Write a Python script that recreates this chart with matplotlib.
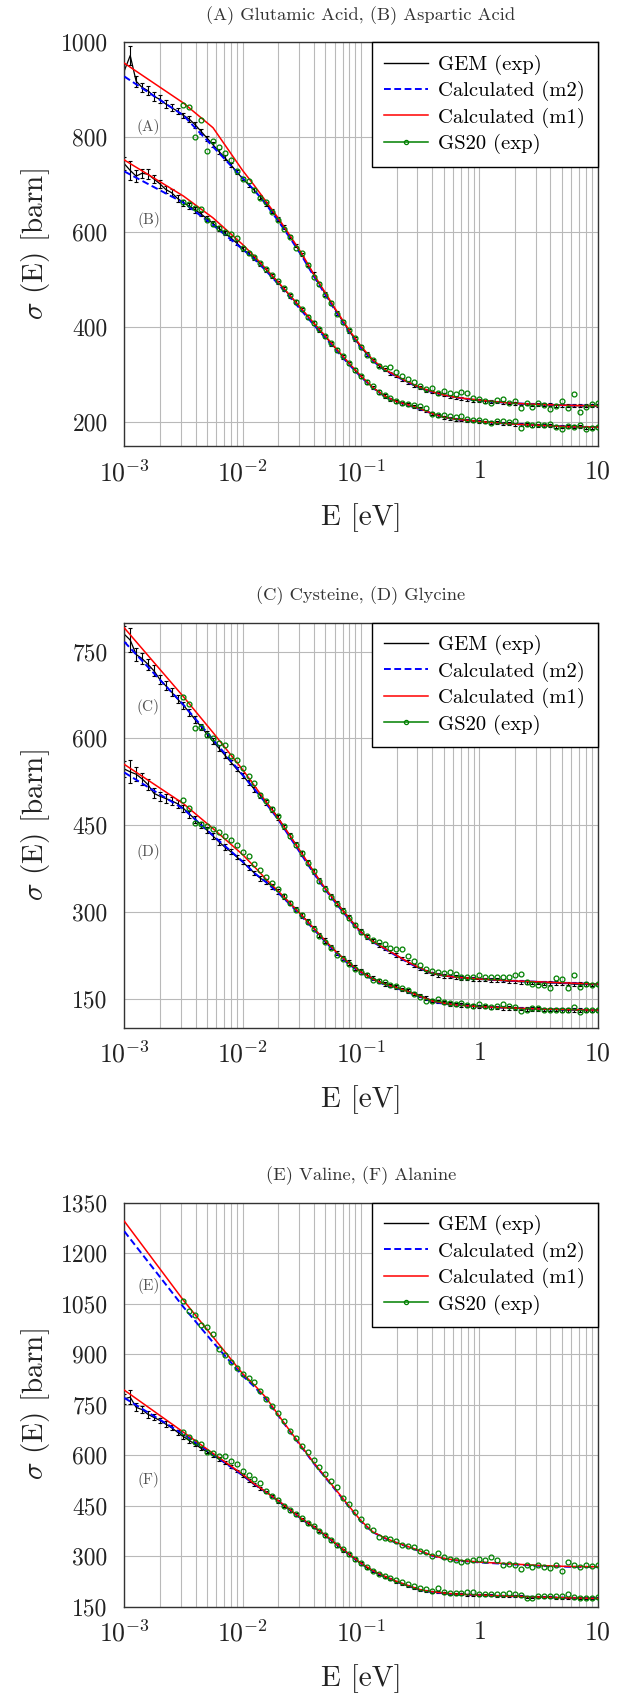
import numpy as np
import matplotlib
matplotlib.use("Agg")
import matplotlib.pyplot as plt
from matplotlib.lines import Line2D
from matplotlib.ticker import LogLocator, NullFormatter

plt.rcParams.update({
    "font.family": "serif",
    "font.serif": ["cmr10"],
    "mathtext.fontset": "cm",
    "axes.formatter.use_mathtext": True,
    "axes.unicode_minus": False,
})

# ---------------- data (log10 of energy in eV, cross-section in barn) ----------------
GEM_LOGE = [-3.00, -2.95, -2.90, -2.85, -2.80, -2.75, -2.70, -2.65, -2.60, -2.55,
            -2.50, -2.45, -2.40, -2.35, -2.30, -2.25, -2.20, -2.15, -2.10, -2.05,
            -2.00, -1.95, -1.90, -1.85, -1.80, -1.75, -1.70, -1.65, -1.60, -1.55,
            -1.50, -1.45, -1.40, -1.35, -1.30, -1.25, -1.20, -1.15, -1.10, -1.05,
            -1.00, -0.95, -0.90, -0.85, -0.80, -0.75, -0.70, -0.65, -0.60, -0.55,
            -0.50, -0.45, -0.40, -0.35, -0.30, -0.25, -0.20, -0.15, -0.10, -0.05,
            0.00, 0.05, 0.10, 0.15, 0.20, 0.25, 0.30, 0.35, 0.40, 0.45,
            0.50, 0.55, 0.60, 0.65, 0.70, 0.75, 0.80, 0.85, 0.90, 0.95,
            1.00]
GEM_ERR = [14, 20, 12, 10, 10, 9, 8, 8, 7, 7,
           6, 6, 6, 5, 5, 5, 5, 5, 4, 4,
           4, 4, 4, 4, 4, 4, 4, 4, 4, 4,
           4, 4, 4, 4, 4, 4, 4, 4, 4, 4,
           4, 3.5, 3.5, 3.5, 3.5, 3, 3, 3, 3, 3,
           3, 3, 3, 3, 3, 3, 3, 3, 3, 3,
           3, 3, 3, 3, 3, 3, 3, 3, 3, 3,
           3, 3, 3, 3, 3, 3, 3, 3, 3, 3,
           3]
GEM_A = [940, 972, 918, 905, 898, 886, 880, 870, 862, 855,
         846, 838, 826, 812, 798, 784, 770, 757, 742, 727,
         713, 700, 688, 674, 660, 645, 628, 610, 591, 572,
         553, 532, 511, 490, 470, 450, 430, 411, 392, 374,
         358, 343, 330, 319, 310, 303, 297, 290, 283, 277,
         272, 267, 263, 260, 257, 254, 252, 250, 248, 246,
         245, 244, 243, 242, 241, 240, 239, 238, 238, 237,
         237, 236, 236, 235, 235, 235, 234, 234, 234, 234,
         234]
GEM_B = [744, 730, 718, 724, 722, 712, 702, 690, 683, 671,
         662, 655, 647, 638, 628, 618, 608, 598, 588, 577,
         565, 555, 545, 533, 521, 508, 494, 480, 466, 452,
         437, 422, 408, 394, 380, 365, 351, 337, 323, 309,
         296, 284, 273, 263, 255, 248, 243, 239, 236, 232,
         228, 223, 218, 214, 210, 208, 206, 204, 203, 202,
         201, 200, 199, 198, 197, 196, 195, 195, 194, 193,
         193, 192, 192, 191, 191, 190, 190, 190, 189, 189,
         189]
GEM_C = [780, 770, 745, 738, 728, 717, 702, 691, 680, 668,
         657, 645, 632, 620, 607, 595, 583, 571, 559, 547,
         536, 524, 512, 501, 489, 477, 463, 447, 432, 416,
         401, 385, 370, 354, 340, 327, 315, 302, 290, 277,
         266, 257, 249, 243, 237, 231, 225, 219, 213, 207,
         202, 197, 193, 191, 189, 188, 187, 186, 185, 184,
         183, 183, 182, 182, 181, 180, 180, 179, 179, 178,
         178, 177, 177, 177, 176, 176, 175, 175, 175, 174,
         174]
GEM_D = [547, 542, 538, 530, 520, 505, 500, 496, 492, 487,
         479, 469, 460, 450, 441, 431, 421, 412, 404, 395,
         386, 377, 367, 358, 352, 344, 335, 326, 315, 305,
         294, 283, 272, 260, 250, 239, 229, 220, 212, 204,
         197, 191, 185, 180, 176, 173, 170, 166, 163, 159,
         155, 151, 147, 145, 143, 141, 140, 139, 138, 137,
         136, 136, 135, 135, 134, 134, 133, 133, 132, 132,
         132, 131, 131, 131, 130, 130, 130, 130, 129, 129,
         129]
GEM_F = [767, 772, 742, 735, 721, 712, 703, 692, 681, 668,
         655, 643, 632, 620, 610, 599, 588, 577, 566, 553,
         539, 525, 512, 501, 490, 478, 463, 449, 436, 423,
         409, 396, 386, 374, 360, 346, 332, 317, 304, 290,
         277, 265, 255, 246, 238, 231, 224, 217, 211, 205,
         199, 196, 194, 192, 190, 188, 187, 186, 185, 185,
         184, 183, 183, 182, 181, 181, 180, 180, 179, 178,
         178, 177, 177, 176, 176, 175, 175, 175, 174, 174,
         174]

CALC_LOGE = [-3.0, -2.5, -2.25, -2.0, -1.9, -1.8, -1.7, -1.6, -1.5, -1.4,
             -1.3, -1.2, -1.1, -1.0, -0.9, -0.8, -0.7, -0.6, -0.5, -0.4,
             -0.3, -0.2, 0.0, 0.25, 0.5, 0.75, 1.0]
M1_A = [956, 872, 820, 730, 698, 664, 630, 593, 555, 512, 472, 432, 394, 360,
        331, 311, 297, 284, 273, 264, 257, 252, 246, 240, 237, 235, 234]
M2_A = [928, 846, 780, 714, 688, 658, 624, 588, 550, 508, 468, 428, 390, 356,
        329, 309, 296, 283, 272, 263, 257, 252, 245, 240, 237, 235, 234]
M1_B = [752, 676, 630, 574, 549, 522, 495, 467, 438, 409, 381, 352, 324, 297,
        273, 255, 243, 236, 228, 218, 210, 206, 201, 196, 193, 190, 189]
M2_B = [728, 662, 615, 564, 543, 518, 491, 463, 434, 405, 377, 349, 321, 295,
        272, 254, 243, 235, 227, 218, 210, 206, 201, 196, 193, 190, 189]
M1_C = [791, 672, 610, 546, 518, 490, 462, 432, 401, 370, 340, 314, 289, 265,
        249, 237, 225, 213, 203, 194, 190, 187, 184, 181, 179, 177, 175]
M2_C = [767, 658, 598, 537, 512, 487, 460, 429, 398, 367, 338, 312, 287, 264,
        248, 236, 224, 212, 202, 194, 190, 187, 184, 181, 179, 177, 175]
M1_D = [555, 487, 444, 399, 378, 356, 336, 315, 294, 272, 250, 229, 211, 196,
        184, 175, 169, 162, 154, 146, 142, 139, 136, 134, 132, 131, 130]
M2_D = [541, 478, 432, 387, 367, 351, 333, 313, 292, 270, 248, 227, 209, 195,
        183, 174, 168, 161, 153, 145, 141, 139, 136, 134, 132, 131, 130]
M1_E = [1295, 1060, 951, 842, 808, 770, 720, 672, 625, 578, 535, 492, 448, 405,
        372, 354, 340, 328, 315, 302, 293, 288, 282, 277, 272, 269, 268]
M2_E = [1265, 1040, 935, 836, 803, 765, 718, 670, 623, 576, 533, 490, 446, 403,
        371, 353, 339, 327, 314, 301, 292, 287, 281, 276, 271, 268, 267]
M1_F = [793, 668, 605, 543, 514, 490, 465, 438, 411, 388, 362, 334, 306, 279,
        257, 240, 225, 212, 200, 194, 190, 187, 184, 181, 178, 176, 174]
M2_F = [770, 662, 602, 540, 513, 489, 464, 437, 410, 387, 361, 333, 305, 278,
        256, 239, 224, 211, 199, 193, 189, 186, 184, 181, 178, 176, 174]

GS20_LOGE = [-2.50, -2.45, -2.40, -2.35, -2.30, -2.25, -2.20, -2.15, -2.10, -2.05,
             -2.00, -1.95, -1.90, -1.85, -1.80, -1.75, -1.70, -1.65, -1.60, -1.55,
             -1.50, -1.45, -1.40, -1.35, -1.30, -1.25, -1.20, -1.15, -1.10, -1.05,
             -1.00, -0.95, -0.90, -0.85, -0.80, -0.75, -0.70, -0.65, -0.60, -0.55,
             -0.50, -0.45, -0.40, -0.35, -0.30, -0.25, -0.20, -0.15, -0.10, -0.05,
             0.00, 0.05, 0.10, 0.15, 0.20, 0.25, 0.30, 0.35, 0.40, 0.45,
             0.50, 0.55, 0.60, 0.65, 0.70, 0.75, 0.80, 0.85, 0.90, 0.95,
             1.00]
GS20_A = [868, 864, 800, 836, 771, 793, 780, 766, 752, 728,
          712, 708, 688, 672, 664, 642, 626, 606, 590, 566,
          555, 530, 506, 490, 468, 450, 428, 410, 394, 376,
          358, 342, 330, 318, 314, 316, 305, 296, 290, 284,
          276, 270, 272, 262, 266, 262, 258, 264, 262, 250,
          248, 244, 240, 246, 248, 240, 244, 230, 240, 232,
          240, 236, 228, 233, 244, 230, 258, 222, 232, 238,
          240]
GS20_B = [664, 660, 650, 648, 626, 618, 609, 600, 596, 588,
          566, 556, 547, 536, 523, 510, 496, 482, 468, 452,
          438, 422, 409, 396, 382, 366, 352, 338, 324, 310,
          297, 285, 275, 264, 256, 250, 244, 240, 238, 236,
          233, 230, 216, 215, 214, 213, 210, 212, 206, 205,
          204, 203, 198, 202, 201, 200, 201, 187, 196, 194,
          195, 194, 196, 190, 186, 192, 190, 193, 186, 187,
          190]
GS20_C = [672, 660, 618, 620, 606, 600, 592, 588, 570, 562,
          548, 535, 522, 502, 492, 478, 466, 448, 432, 416,
          402, 385, 370, 353, 340, 326, 314, 302, 290, 278,
          266, 258, 252, 248, 244, 238, 236, 236, 224, 215,
          208, 202, 198, 196, 194, 196, 192, 188, 187, 187,
          190, 188, 188, 188, 188, 188, 190, 193, 178, 176,
          174, 174, 168, 186, 184, 169, 190, 170, 175, 174,
          176]
GS20_D = [493, 480, 454, 452, 448, 444, 438, 432, 424, 416,
          404, 396, 382, 372, 360, 350, 340, 328, 316, 304,
          294, 282, 270, 258, 248, 238, 226, 218, 210, 202,
          196, 190, 183, 180, 178, 174, 172, 168, 164, 158,
          152, 146, 146, 150, 144, 142, 140, 142, 139, 138,
          140, 137, 136, 138, 140, 137, 136, 128, 130, 133,
          134, 131, 130, 131, 130, 130, 135, 126, 130, 130,
          130]
GS20_E = [1058, 1028, 1016, 988, 982, 960, 915, 896, 878, 860,
          842, 828, 816, 790, 768, 746, 726, 702, 672, 650,
          628, 608, 586, 565, 543, 524, 505, 472, 455, 430,
          410, 390, 376, 358, 354, 352, 345, 332, 330, 327,
          314, 312, 300, 309, 298, 292, 288, 283, 286, 287,
          292, 288, 297, 287, 272, 276, 272, 262, 272, 268,
          272, 268, 264, 272, 255, 282, 272, 268, 272, 270,
          274]
GS20_F = [668, 653, 640, 633, 610, 607, 598, 596, 583, 572,
          552, 540, 528, 516, 492, 478, 466, 450, 438, 424,
          412, 398, 388, 374, 362, 348, 334, 320, 306, 292,
          280, 268, 256, 246, 240, 234, 228, 222, 216, 212,
          206, 202, 196, 205, 194, 190, 189, 190, 192, 192,
          188, 187, 188, 186, 188, 190, 186, 184, 176, 176,
          181, 180, 180, 180, 180, 186, 178, 175, 174, 176,
          178]

TITLES = ["(A) Glutamic Acid, (B) Aspartic Acid",
          "(C) Cysteine, (D) Glycine",
          "(E) Valine, (F) Alanine"]
CURVE_NAMES = [("(A)", "(B)"), ("(C)", "(D)"), ("(E)", "(F)")]
NAME_Y = [(822, 625), (655, 404), (1103, 526)]
YTICKS = [[200, 400, 600, 800, 1000],
          [150, 300, 450, 600, 750],
          [150, 300, 450, 600, 750, 900, 1050, 1200, 1350]]
YLIMS = [(150, 1000), (100, 800), (150, 1350)]
XTICKS = [1e-3, 1e-2, 1e-1, 1, 10]
XTICKLABELS = [r"$10^{-3}$", r"$10^{-2}$", r"$10^{-1}$", r"$1$", r"$10$"]
LEGEND_LABELS = ["GEM (exp)", "Calculated (m2)", "Calculated (m1)", "GS20 (exp)"]

GEM_SETS = [[GEM_A, GEM_B], [GEM_C, GEM_D], [GEM_F]]
M1_SETS = [[M1_A, M1_B], [M1_C, M1_D], [M1_E, M1_F]]
M2_SETS = [[M2_A, M2_B], [M2_C, M2_D], [M2_E, M2_F]]
GS_SETS = [[GS20_A, GS20_B], [GS20_C, GS20_D], [GS20_E, GS20_F]]

# ---------------- figure ----------------
W, H = 618, 1693
fig = plt.figure(figsize=(W / 100, H / 100), dpi=100)

AX_LEFT, AX_RIGHT = 124.3, 597.5
AX_TB = [(42.3, 445.7), (622.7, 1027.5), (1202.7, 1606.5)]

GRID = "#b9b9b9"
RED, BLUE, GREEN = "#ff0000", "#0000ff", "#008000"

e_gem = 10 ** np.array(GEM_LOGE)
e_calc = 10 ** np.array(CALC_LOGE)
e_gs = 10 ** np.array(GS20_LOGE)

for i in range(3):
    top, bot = AX_TB[i]
    ax = fig.add_axes([AX_LEFT / W, 1 - bot / H, (AX_RIGHT - AX_LEFT) / W, (bot - top) / H])
    ax.set_xscale("log")
    ax.set_xlim(1e-3, 10)
    ax.set_ylim(*YLIMS[i])
    ax.set_axisbelow(True)

    for g in GEM_SETS[i]:
        ax.errorbar(e_gem, g, yerr=GEM_ERR, color="black", lw=0.9, elinewidth=0.8,
                    capsize=1.7, capthick=0.8, zorder=2)
    for m in M2_SETS[i]:
        ax.plot(e_calc, m, color=BLUE, lw=1.4, dashes=(3.5, 1.8), zorder=3)
    for m in M1_SETS[i]:
        ax.plot(e_calc, m, color=RED, lw=1.1, zorder=4)
    for s in GS_SETS[i]:
        ax.plot(e_gs, s, ls="none", marker="o", ms=3.5, mfc="none", mec=GREEN,
                mew=0.9, zorder=5)

    ax.set_xticks(XTICKS)
    ax.set_xticklabels(XTICKLABELS)
    ax.xaxis.set_minor_locator(LogLocator(base=10, subs=np.arange(2, 10)))
    ax.xaxis.set_minor_formatter(NullFormatter())
    ax.set_yticks(YTICKS[i])
    ax.set_yticklabels([str(v) for v in YTICKS[i]])
    ax.grid(True, which="major", color=GRID, lw=0.8)
    ax.grid(True, which="minor", axis="x", color=GRID, lw=0.8)
    ax.tick_params(which="both", length=0, colors="#222222")
    ax.tick_params(axis="y", labelsize=17, pad=12)
    ax.tick_params(axis="x", labelsize=18.5, pad=10)
    for sp in ax.spines.values():
        sp.set_color("#333333")
        sp.set_linewidth(1.0)

    for name, yv in zip(CURVE_NAMES[i], NAME_Y[i]):
        ax.text(1.6e-3, yv, name, fontsize=11, color="#555555", ha="center", va="center")

    handles = [Line2D([], [], color="black", lw=1.0),
               Line2D([], [], color=BLUE, lw=1.4, dashes=(3.5, 1.8)),
               Line2D([], [], color=RED, lw=1.1),
               Line2D([], [], color=GREEN, lw=1.1, marker="o", ms=3.0, mfc="none", mew=0.9)]
    leg = ax.legend(handles, LEGEND_LABELS, loc="upper right", borderaxespad=0,
                    fontsize=14.9, frameon=True, fancybox=False, framealpha=1,
                    edgecolor="black", handlelength=2.1, handletextpad=0.5,
                    borderpad=0.6, labelspacing=0.3)
    leg.get_frame().set_linewidth(1.0)

    cx = (AX_LEFT + AX_RIGHT) / 2 / W
    fig.text(cx, 1 - (top - 27) / H, TITLES[i], fontsize=13.3, ha="center", va="center",
             color="#333333")
    fig.text(cx, 1 - (bot + 72) / H, "E [eV]", fontsize=21, ha="center", va="center",
             color="#222222")
    fig.text(35 / W, 1 - (top + bot) / 2 / H, r"$\sigma$ (E) [barn]", fontsize=21,
             rotation=90, ha="center", va="center", color="#222222")

fig.savefig("out.png", dpi=100)
